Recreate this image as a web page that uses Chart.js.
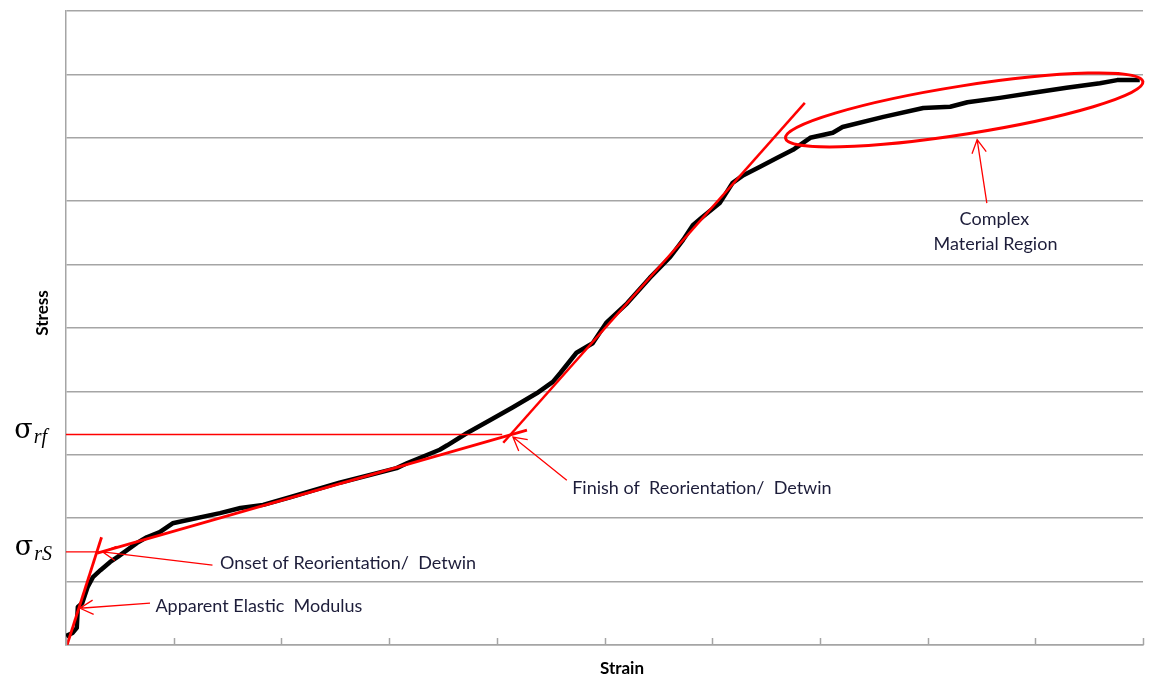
<!DOCTYPE html>
<html>
<head>
<meta charset="utf-8">
<title>Stress - Strain</title>
<script src="https://cdn.jsdelivr.net/npm/chart.js@4/dist/chart.umd.min.js"></script>
<style>
    html, body { margin: 0; padding: 0; background: #fff; }
    #wrap { position: relative; width: 1149px; height: 679px; }
</style>
</head>
<body>
<div id="wrap"><canvas id="ssChart" width="1149" height="679"></canvas></div>
<script>
const strain = [0.00, 0.06, 0.10, 0.11, 0.15, 0.20, 0.25, 0.32, 0.41, 0.48, 0.57, 0.66, 0.75, 0.87, 0.99,
    1.43, 1.62, 1.83, 2.08, 2.54, 3.07, 3.17, 3.47, 3.54, 3.72, 3.94, 4.15, 4.37, 4.52, 4.59, 4.74, 4.89,
    5.02, 5.21, 5.42, 5.61, 5.73, 5.82, 5.91, 6.07, 6.19, 6.29, 6.44, 6.60, 6.75, 6.91, 7.12, 7.21, 7.59,
    7.96, 8.21, 8.37, 8.67, 8.98, 9.29, 9.60, 9.76, 9.97];
const stress = [0.14, 0.19, 0.27, 0.60, 0.66, 0.91, 1.07, 1.18, 1.31, 1.39, 1.50, 1.61, 1.70, 1.78, 1.92,
    2.08, 2.16, 2.21, 2.33, 2.56, 2.79, 2.87, 3.08, 3.15, 3.34, 3.55, 3.75, 3.97, 4.15, 4.29, 4.61, 4.76,
    5.09, 5.39, 5.79, 6.12, 6.39, 6.62, 6.75, 6.97, 7.29, 7.41, 7.54, 7.68, 7.81, 8.00, 8.08, 8.17, 8.33,
    8.47, 8.49, 8.56, 8.63, 8.71, 8.79, 8.86, 8.91, 8.91];

// ---- construction lines ----
const elasticStrain = [0.01, 0.33];
const elasticStress = [0.00, 1.70];
const detwinStrain = [0.29, 4.28];
const detwinStress = [1.45, 3.39];
const steepStrain = [4.06, 6.86];
const steepStress = [3.19, 8.55];
const sigmaRsStrain = [0, 0.33];
const sigmaRsStress = [1.47, 1.47];
const sigmaRfStrain = [0, 4.05];
const sigmaRfStress = [3.32, 3.32];

// ---- callouts: arrow tail -> tip, label anchors ----
const arrowTailStrain = [0.78, 1.36, 4.65, 8.55];
const arrowTailStress = [0.66, 1.26, 2.60, 6.97];
const arrowTipStrain = [0.13, 0.34, 4.15, 8.46];
const arrowTipStress = [0.58, 1.47, 3.28, 7.97];
const noteText = ['Apparent Elastic  Modulus', 'Onset of Reorientation/  Detwin', 'Finish of  Reorientation/  Detwin', 'Complex', 'Material Region'];
const noteStrain = [0.83, 1.43, 4.70, 8.62, 8.63];
const noteStress = [0.62, 1.29, 2.48, 6.72, 6.32];
const ringStrain = [8.34];
const ringStress = [8.44];

function pts(xs, ys) {
    return xs.map(function (x, i) { return { x: x, y: ys[i] }; });
}

const RED = '#ff0000';
const GRID = '#a5a5a5';
const NOTE = '#1d1d3a';

const calloutPlugin = {
    id: 'callouts',
    afterDatasetsDraw(chart) {
        const ctx = chart.ctx, xs = chart.scales.x, ys = chart.scales.y;
        ctx.save();
        // ellipse round the complex region
        const cx = xs.getPixelForValue(ringStrain[0]), cy = ys.getPixelForValue(ringStress[0]);
        const rx = xs.getPixelForValue(ringStrain[0] + 1.68) - cx;
        const ry = cy - ys.getPixelForValue(ringStress[0] + 0.38);
        ctx.strokeStyle = RED;
        ctx.lineWidth = 3;
        ctx.beginPath();
        ctx.ellipse(cx, cy, rx, ry, -9 * Math.PI / 180, 0, Math.PI * 2);
        ctx.stroke();

        // arrows
        ctx.lineWidth = 1.3;
        for (let i = 0; i < arrowTipStrain.length; i++) {
            const x0 = xs.getPixelForValue(arrowTailStrain[i]), y0 = ys.getPixelForValue(arrowTailStress[i]);
            const x1 = xs.getPixelForValue(arrowTipStrain[i]), y1 = ys.getPixelForValue(arrowTipStress[i]);
            const a = Math.atan2(y1 - y0, x1 - x0), h = 15;
            ctx.beginPath();
            ctx.moveTo(x0, y0); ctx.lineTo(x1, y1);
            ctx.moveTo(x1 - h * Math.cos(a - 0.5), y1 - h * Math.sin(a - 0.5));
            ctx.lineTo(x1, y1);
            ctx.lineTo(x1 - h * Math.cos(a + 0.5), y1 - h * Math.sin(a + 0.5));
            ctx.stroke();
        }

        // notes
        ctx.fillStyle = NOTE;
        ctx.font = '18px Lato, "Open Sans", sans-serif';
        ctx.textBaseline = 'middle';
        noteText.forEach(function (t, i) {
            ctx.textAlign = i >= 3 ? 'center' : 'left';
            ctx.fillText(t, xs.getPixelForValue(noteStrain[i]), ys.getPixelForValue(noteStress[i]));
        });
        ctx.restore();
    },
    afterDraw(chart) {
        const ctx = chart.ctx, xs = chart.scales.x, ys = chart.scales.y, area = chart.chartArea;
        ctx.save();
        // tick marks pointing into the plot
        ctx.strokeStyle = GRID;
        ctx.lineWidth = 1.5;
        xs.ticks.forEach(function (t) {
            const px = Math.round(xs.getPixelForValue(t.value)) + 0.5;
            ctx.beginPath();
            ctx.moveTo(px, area.bottom);
            ctx.lineTo(px, area.bottom - 7);
            ctx.stroke();
        });

        // axis titles
        ctx.fillStyle = '#000';
        ctx.font = 'bold 17px Lato, sans-serif';
        ctx.textAlign = 'center';
        ctx.textBaseline = 'middle';
        ctx.fillText('Strain', 622, 669);
        ctx.translate(43, 313);
        ctx.rotate(-Math.PI / 2);
        ctx.fillText('Stress', 0, 0);
        ctx.setTransform(1, 0, 0, 1, 0, 0);

        // sigma labels at the two stress levels
        const sig = [['rf', sigmaRfStress[0], 47], ['rS', sigmaRsStress[0], 52]];
        sig.forEach(function (s) {
            const py = ys.getPixelForValue(s[1]);
            ctx.textAlign = 'right';
            ctx.textBaseline = 'alphabetic';
            ctx.font = 'italic 20px "Liberation Serif", serif';
            const subW = ctx.measureText(s[0]).width;
            ctx.fillText(s[0], s[2], py + 8);
            ctx.font = '27px "DejaVu Serif", serif';
            ctx.fillText('\u03c3', s[2] - subW - 1, py + 3);
        });
        ctx.restore();
    }
};

new Chart(document.getElementById('ssChart'), {
    type: 'line',
    data: {
        datasets: [
            { data: pts(elasticStrain, elasticStress), borderColor: RED, borderWidth: 2.8 },
            { data: pts(detwinStrain, detwinStress), borderColor: RED, borderWidth: 2.8 },
            { data: pts(steepStrain, steepStress), borderColor: RED, borderWidth: 2.5 },
            { data: pts(sigmaRsStrain, sigmaRsStress), borderColor: RED, borderWidth: 1.3 },
            { data: pts(sigmaRfStrain, sigmaRfStress), borderColor: RED, borderWidth: 1.3 },
            { data: pts(strain, stress), borderColor: '#000', borderWidth: 4.5, borderJoinStyle: 'round' }
        ]
    },
    options: {
        responsive: false,
        animation: false,
        parsing: false,
        layout: { padding: { left: 0, top: 11, right: 6, bottom: 0 } },
        elements: { point: { radius: 0 }, line: { tension: 0, fill: false } },
        plugins: { legend: { display: false }, tooltip: { enabled: false } },
        scales: {
            x: {
                type: 'linear', min: 0, max: 10,
                ticks: { display: false, stepSize: 1 },
                grid: { display: false },
                border: { display: true, color: GRID, width: 1.5 },
                afterFit: function (s) { s.height = 34; }
            },
            y: {
                type: 'linear', min: 0, max: 10,
                ticks: { display: false, stepSize: 1 },
                grid: { color: GRID, lineWidth: 1.5, drawTicks: false },
                border: { display: true, color: GRID, width: 1.5 },
                afterFit: function (s) { s.width = 66; }
            }
        }
    },
    plugins: [calloutPlugin]
});
</script>
</body>
</html>
